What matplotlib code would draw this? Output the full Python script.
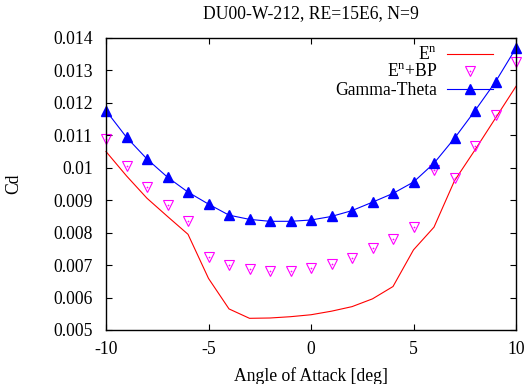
import matplotlib
matplotlib.use("Agg")
import matplotlib.pyplot as plt
import numpy as np

aoa = [-10, -9, -8, -7, -6, -5, -4, -3, -2, -1, 0, 1, 2, 3, 4, 5, 6, 7, 8, 9, 10]
cd_en = [0.01050, 0.00975, 0.00906, 0.00850, 0.00795, 0.00659, 0.00565, 0.00536,
         0.00537, 0.00541, 0.00547, 0.00558, 0.00572, 0.00596, 0.00634, 0.00747,
         0.00817, 0.00960, 0.01055, 0.01153, 0.01251]
cd_enbp = [0.01088, 0.01006, 0.00942, 0.00886, 0.00835, 0.00724, 0.00700, 0.00688,
           0.00683, 0.00683, 0.00690, 0.00702, 0.00723, 0.00752, 0.00781, 0.00819,
           0.00994, 0.00967, 0.01068, 0.01163, 0.01326]
cd_gt = [0.01176, 0.01094, 0.01027, 0.00971, 0.00925, 0.00888, 0.00854, 0.00841,
         0.00835, 0.00835, 0.00839, 0.00850, 0.00868, 0.00894, 0.00921, 0.00956,
         0.01014, 0.01091, 0.01176, 0.01265, 0.01369]

xticks = [-10, -5, 0, 5, 10]
yticks = [0.005, 0.006, 0.007, 0.008, 0.009, 0.010, 0.011, 0.012, 0.013, 0.014]
ytick_labels = ["0.005", "0.006", "0.007", "0.008", "0.009", "0.01", "0.011", "0.012", "0.013", "0.014"]

title = "DU00-W-212, RE=15E6, N=9"
xlabel = "Angle of Attack [deg]"
ylabel = "Cd"
labels = [r"E$^{\mathrm{n}}$", r"E$^{\mathrm{n}}$+BP", "Gamma-Theta"]

plt.rcParams['font.family'] = ['Liberation Serif', 'DejaVu Serif']
plt.rcParams['mathtext.fontset'] = 'custom'
plt.rcParams['mathtext.rm'] = 'Liberation Serif'

FS = 12.7

fig = plt.figure(figsize=(5.28, 3.84), dpi=100)
ax = fig.add_axes([106/528, 1-330/384, 410/528, 292/384])

red = '#ff0000'
mag = '#ff00ff'
blue = '#0000ff'

l1, = ax.plot(aoa, cd_en, color=red, lw=0.8, clip_on=False)
l2, = ax.plot(aoa, cd_enbp, ls='none', marker='v', ms=7.5, mfc='none', mec=mag, mew=0.8, clip_on=False)
d2, = ax.plot(aoa, cd_enbp, ls='none', marker='o', ms=0.9, mfc=mag, mec=mag, mew=0.3, clip_on=False)
l3, = ax.plot(aoa, cd_gt, color=blue, lw=0.8, marker='^', ms=7, mfc=blue, mec=blue, clip_on=False)

ax.set_xlim(-10, 10)
ax.set_ylim(0.005, 0.014)
ax.set_xticks(xticks)
ax.set_xticklabels([str(t) for t in xticks])
ax.set_yticks(yticks)
ax.set_yticklabels(ytick_labels)
ax.tick_params(direction='in', length=4, width=0.8, top=True, right=True, labelsize=FS, pad=9.5)
ax.tick_params(axis='x', pad=8)
for s in ax.spines.values():
    s.set_linewidth(1.0)

ax.set_xlabel(xlabel, fontsize=FS, va='center')
ax.set_ylabel(ylabel, fontsize=FS, va='center')
ax.xaxis.set_label_coords(0.5, (330-376)/292)
ax.yaxis.set_label_coords((14-106)/410, 0.5)
fig.text(311/528, 1-14/384, title, ha='center', va='center', fontsize=FS)

leg = ax.legend([l1, (l2, d2), l3], labels, loc='upper right', markerfirst=False,
                frameon=False, fontsize=FS, handlelength=2.6, labelspacing=0.02,
                borderaxespad=0.0, bbox_to_anchor=(0.96, 0.995), handletextpad=0.55)

fig.savefig("out.png", dpi=100)
